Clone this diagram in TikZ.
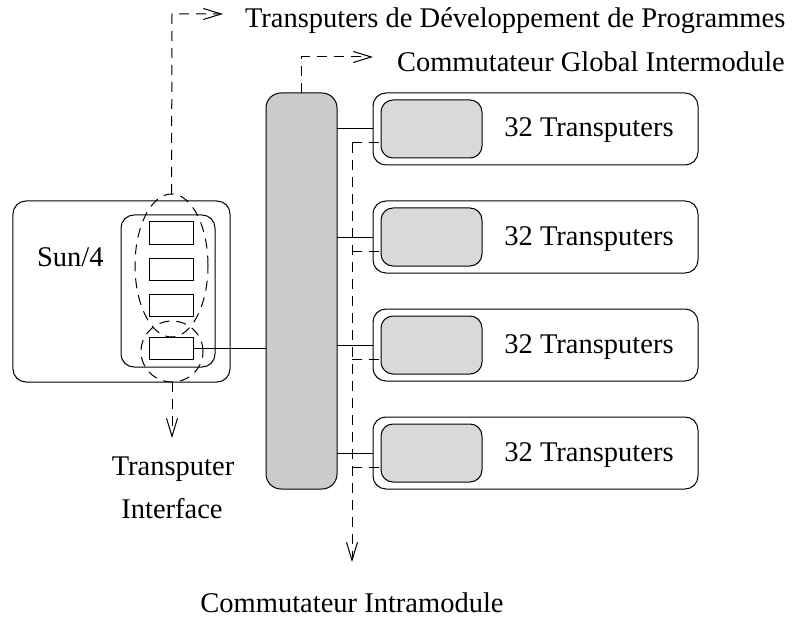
\documentclass[tikz,border=0pt]{standalone}
\usepackage{fontspec}
\setmainfont{Liberation Serif}
\usetikzlibrary{arrows.meta,calc,shapes.geometric}
\definecolor{swgray}{HTML}{CCCCCC}
\definecolor{modgray}{HTML}{D9D9D9}
\begin{document}
\begin{tikzpicture}[x=1bp,y=-1bp,
  every node/.style={inner sep=0pt,outer sep=0pt},
  box/.style={draw,line width=1bp,rounded corners=13bp},
  lbl/.style={font=\fontsize{28.5bp}{34bp}\selectfont},
  dsh/.style={draw,line width=1bp,dash pattern=on 10bp off 7bp},
  arr/.style={-{Straight Barb[length=18bp,width=11bp,line width=1bp]}},
  ln/.style={line width=1bp},
  smallrect/.style={draw,line width=1bp,minimum width=44bp,minimum height=22bp}]
\useasboundingbox (0,0) rectangle (792,617);

% central switch
\node[box,fill=swgray,rounded corners=15bp,minimum width=71bp,minimum height=396bp] (sw) at (301.5,291) {};

% modules
\foreach \k in {0,1,2,3}{
  \pgfmathsetmacro\cy{129+108*\k}
  \pgfmathsetmacro\dy{143+108*\k}
  \pgfmathsetmacro\by{137+108*\k}
  \node[box,minimum width=325bp,minimum height=72bp] (m\k) at (535.5,\cy) {};
  \node[box,fill=modgray,rounded corners=12bp,minimum width=101bp,minimum height=58bp] (i\k) at (431.5,\cy) {};
  \node[lbl,anchor=base] (t\k) at (589,\by) {32 Transputers};
  \draw[ln] (sw.east |- m\k.west) -- (m\k.west);
  \coordinate (d\k) at (352,\dy);
  \draw[dsh] (d\k) -- (d\k -| i\k.west);
}

% Sun/4
\node[box,minimum width=217bp,minimum height=181bp] (sun) at (121.5,291.5) {};
\node[box,minimum width=94bp,minimum height=152bp] (sunin) at (168,291) {};
\node[lbl,anchor=base west] (sunt) at (37,266) {Sun/4};
\node[smallrect] (r1) at (171,233) {};
\node[smallrect] (r2) at (171,269) {};
\node[smallrect] (r3) at (171,305) {};
\node[smallrect] (r4) at (171,348) {};
\draw[ln] (r4.east) -- (r4.east -| sw.west);

% dashed ellipses
\node[ellipse,dsh,minimum width=73bp,minimum height=143bp] (e1) at (171.5,265.5) {};
\node[ellipse,dsh,minimum width=62bp,minimum height=61bp] (e2) at (172,351.5) {};

% top: Transputers de Developpement
\coordinate (tp) at (172,14);
\coordinate (tpa) at (223,14);
\draw[dsh,arr] (e1.north) -- (tp) -- (tpa);
\node[lbl,anchor=base west] (tdev) at (245,28) {Transputers de Développement de Programmes};

% global switch
\coordinate (gc) at (373,57);
\draw[dsh,arr] (sw.north) -- (sw.north |- gc) -- (gc);
\node[lbl,anchor=base west] (tglob) at (397,72) {Commutateur Global Intermodule};

% transputer interface
\coordinate (ti) at (172,438);
\draw[dsh,arr] (e2.south) -- (ti);
\node[lbl,anchor=base] (tint1) at (173,475) {Transputer};
\node[lbl,anchor=base] (tint2) at (172,518) {Interface};

% intramodule
\coordinate (im) at (352,562);
\draw[dsh,arr] (d0) -- (im);
\node[lbl,anchor=base] (tintra) at (352,612) {Commutateur Intramodule};
\end{tikzpicture}
\end{document}
